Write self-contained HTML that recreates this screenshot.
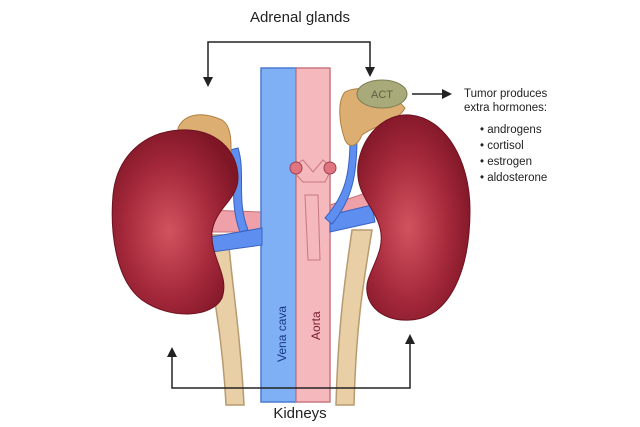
<!DOCTYPE html>
<html><head><meta charset="utf-8"><style>
html,body{margin:0;padding:0;background:#fff}
svg{display:block}
text{font-family:"Liberation Sans",Arial,sans-serif}
</style></head><body>
<svg width="640" height="427" viewBox="0 0 640 427" xmlns="http://www.w3.org/2000/svg">
<defs>
<radialGradient id="kid" cx="0.45" cy="0.55" r="0.6">
<stop offset="0" stop-color="#d2535f"/><stop offset="0.6" stop-color="#a3283a"/><stop offset="1" stop-color="#7e1626"/>
</radialGradient>
<marker id="ah" markerWidth="10" markerHeight="10" refX="8" refY="5" orient="auto" markerUnits="userSpaceOnUse">
<path d="M0,0 L10,5 L0,10 z" fill="#222"/></marker>
</defs>
<path d="M205,235 C212,290 222,330 226,405 L244,405 C240,330 232,285 228,235 Z" fill="#e8cfa6" stroke="#b89a70" stroke-width="1.5"/>
<path d="M372,230 C362,290 356,330 354,405 L336,405 C338,330 344,285 352,230 Z" fill="#e8cfa6" stroke="#b89a70" stroke-width="1.5"/>
<path d="M205,210 L262,212 L262,232 L205,232 Z" fill="#f0a0a8" stroke="#c87078"/>
<path d="M330,205 L375,190 L380,205 L330,225 Z" fill="#f0a0a8" stroke="#c87078"/>
<rect x="261" y="68" width="35" height="334" fill="#7fb0f5" stroke="#4a7ad0" stroke-width="1.5"/>
<rect x="296" y="68" width="34" height="334" fill="#f5b8bd" stroke="#c87880" stroke-width="1.5"/>
<path d="M290,168 L303,160 L313,172 L323,160 L332,168 L325,182 L303,182 Z" fill="#f5b8bd" stroke="#c87880"/>
<circle cx="296" cy="168" r="6" fill="#e07580" stroke="#a04050"/>
<circle cx="330" cy="168" r="6" fill="#e07580" stroke="#a04050"/>
<path d="M305,195 L318,195 L320,260 L308,260 Z" fill="#f5b8bd" stroke="#c87880"/>
<path d="M205,238 L262,228 L262,245 L212,252 Z" fill="#5d8ef0" stroke="#3a62c0"/>
<path d="M330,215 L372,205 L375,222 L330,232 Z" fill="#5d8ef0" stroke="#3a62c0"/>
<path d="M230,150 C238,175 228,200 240,232 L248,230 C236,200 246,172 238,148 Z" fill="#5d8ef0" stroke="#3a62c0"/>
<path d="M350,138 C350,175 345,195 325,218 L332,224 C352,200 357,175 357,138 Z" fill="#5d8ef0" stroke="#3a62c0"/>
<path d="M178,128 C185,112 205,112 222,120 C232,126 232,145 230,165 C220,160 205,138 178,132 Z" fill="#dcae72" stroke="#b08040"/>
<path d="M345,92 C360,84 390,90 405,108 C398,122 375,125 362,135 C358,145 350,150 345,140 C338,120 338,100 345,92 Z" fill="#dcae72" stroke="#b08040"/>
<ellipse cx="382" cy="94" rx="25" ry="14" fill="#a9aa7a" stroke="#7d7e55"/>
<text x="382" y="98" font-size="11" fill="#5e6040" text-anchor="middle">ACT</text>
<path d="M180,130 C215,128 238,150 238,178 C238,200 215,208 212,232 C210,258 230,275 222,298 C212,318 170,320 142,300 C115,280 110,230 113,195 C117,155 145,132 180,130 Z" fill="url(#kid)" stroke="#6e1220"/>
<path d="M410,115 C445,118 470,160 470,210 C470,270 450,318 410,320 C378,322 362,300 368,280 C374,262 385,248 380,228 C374,205 355,195 358,165 C362,135 385,113 410,115 Z" fill="url(#kid)" stroke="#6e1220"/>
<text transform="translate(286,362) rotate(-90)" font-size="12" fill="#1a3a80">Vena cava</text>
<text transform="translate(320,340) rotate(-90)" font-size="12" fill="#7a2030">Aorta</text>
<text x="300" y="22" font-size="15" fill="#222" text-anchor="middle">Adrenal glands</text>
<polyline points="208,85 208,42 370,42 370,75" fill="none" stroke="#222" stroke-width="1.5"/>
<path d="M203,77 L208,87 L213,77 z" fill="#222"/>
<path d="M365,67 L370,77 L375,67 z" fill="#222"/>
<polyline points="172,350 172,388 410,388 410,337" fill="none" stroke="#222" stroke-width="1.5"/>
<path d="M167,357 L172,347 L177,357 z" fill="#222"/>
<path d="M405,344 L410,334 L415,344 z" fill="#222"/>
<text x="300" y="418" font-size="15" fill="#222" text-anchor="middle">Kidneys</text>
<line x1="412" y1="94" x2="450" y2="94" stroke="#222" stroke-width="1.5" marker-end="url(#ah)"/>
<g font-size="11.5" fill="#222">
<text x="464" y="97">Tumor produces</text>
<text x="464" y="111">extra hormones:</text>
<text x="480" y="133">• androgens</text>
<text x="480" y="149">• cortisol</text>
<text x="480" y="165">• estrogen</text>
<text x="480" y="181">• aldosterone</text>
</g>
</svg>
</body></html>
